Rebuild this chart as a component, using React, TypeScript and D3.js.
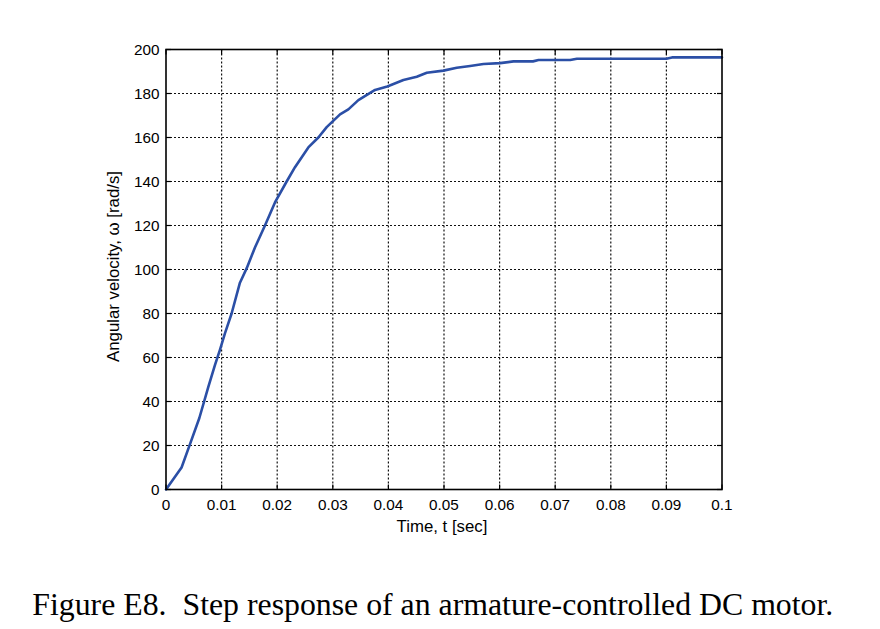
import React from "react";
import * as d3 from "d3";

const timeValues = [0, 0.0028, 0.0043, 0.006, 0.0076, 0.0088, 0.0097, 0.0106, 0.0118, 0.0133, 0.0145, 0.016, 0.0178, 0.0196, 0.0217, 0.0232, 0.0256, 0.0274, 0.0289, 0.0313, 0.0328, 0.0346, 0.0376, 0.0398, 0.0427, 0.0451, 0.0469, 0.0499, 0.0523, 0.0547, 0.0571, 0.0601, 0.0625, 0.066, 0.067, 0.0727, 0.0739, 0.09, 0.091, 0.1];
const omegaValues = [0, 10, 20.5, 32.5, 46.5, 56.5, 63.5, 71, 80, 94, 100.5, 110, 120, 130.5, 140, 146.5, 155.5, 160, 164.7, 170.5, 172.8, 177, 181.6, 183.2, 186.1, 187.6, 189.4, 190.4, 191.7, 192.5, 193.4, 193.8, 194.6, 194.6, 195.2, 195.2, 195.8, 195.8, 196.4, 196.4];
const xTicks = [0, 0.01, 0.02, 0.03, 0.04, 0.05, 0.06, 0.07, 0.08, 0.09, 0.1];
const xTickLabels = ["0", "0.01", "0.02", "0.03", "0.04", "0.05", "0.06", "0.07", "0.08", "0.09", "0.1"];
const yTicks = [0, 20, 40, 60, 80, 100, 120, 140, 160, 180, 200];
const xAxisTitle = "Time, t [sec]";
const yAxisTitle = "Angular velocity, ω [rad/s]";
const caption = "Figure E8.  Step response of an armature-controlled DC motor.";

export default function App() {
  const W = 880, H = 629;
  const left = 166, right = 722, top = 49.5, bottom = 489.5;
  const x = d3.scaleLinear().domain([0, 0.1]).range([left, right]);
  const y = d3.scaleLinear().domain([0, 200]).range([bottom, top]);
  const pts = timeValues.map((t, i) => [t, omegaValues[i]] as [number, number]);
  const line = d3.line<[number, number]>().x(d => x(d[0])).y(d => y(d[1])).curve(d3.curveLinear);
  const tickLen = 5;
  const font = "'Liberation Sans', Arial, sans-serif";
  return (
    <svg width={W} height={H} style={{ position: "absolute", left: 0, top: 0, background: "#fff" }}>
      <rect x={0} y={0} width={W} height={H} fill="#fff" />
      {xTicks.slice(1, -1).map(t => (
        <line key={"gx" + t} x1={x(t)} x2={x(t)} y1={top} y2={bottom} stroke="#111" strokeWidth={1.2} strokeDasharray="2,2" />
      ))}
      {yTicks.slice(1, -1).map(v => (
        <line key={"gy" + v} x1={left} x2={right} y1={y(v)} y2={y(v)} stroke="#111" strokeWidth={1.2} strokeDasharray="2,2" />
      ))}
      {xTicks.map(t => (
        <g key={"tx" + t}>
          <line x1={x(t)} x2={x(t)} y1={bottom} y2={bottom - tickLen} stroke="#000" strokeWidth={1.2} />
          <line x1={x(t)} x2={x(t)} y1={top} y2={top + tickLen} stroke="#000" strokeWidth={1.2} />
        </g>
      ))}
      {yTicks.map(v => (
        <g key={"ty" + v}>
          <line x1={left} x2={left + tickLen} y1={y(v)} y2={y(v)} stroke="#000" strokeWidth={1.2} />
          <line x1={right} x2={right - tickLen} y1={y(v)} y2={y(v)} stroke="#000" strokeWidth={1.2} />
        </g>
      ))}
      <path d={line(pts) || ""} fill="none" stroke="#2b4fa6" strokeWidth={2.6} strokeLinejoin="round" strokeLinecap="round" />
      <rect x={left} y={top} width={right - left} height={bottom - top} fill="none" stroke="#000" strokeWidth={1.6} />
      {xTicks.map((t, i) => (
        <text key={"lx" + t} x={x(t)} y={510} textAnchor="middle" fontFamily={font} fontSize={15.3} fill="#000">{xTickLabels[i]}</text>
      ))}
      {yTicks.map(v => (
        <text key={"ly" + v} x={159.5} y={y(v) + 5.5} textAnchor="end" fontFamily={font} fontSize={15.3} fill="#000">{v}</text>
      ))}
      <text x={442} y={532.3} textAnchor="middle" fontFamily={font} fontSize={16.8} fill="#000">{xAxisTitle}</text>
      <text transform={`translate(119,266.5) rotate(-90)`} textAnchor="middle" fontFamily={font} fontSize={16.8} fill="#000">{yAxisTitle}</text>
      <text x={32.3} y={615} fontFamily="'Liberation Serif', 'Times New Roman', serif" fontSize={32.5} fill="#000" textLength={801} lengthAdjust="spacingAndGlyphs" style={{ whiteSpace: "pre" }}>{caption}</text>
    </svg>
  );
}
